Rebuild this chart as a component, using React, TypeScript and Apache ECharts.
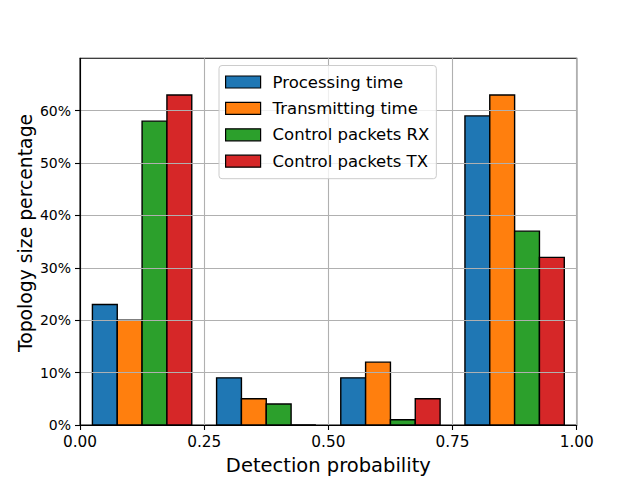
import React, { useEffect, useRef } from "react";
import * as echarts from "echarts";

const binEdges = [0, 0.25, 0.5, 0.75, 1.0];
const seriesNames = ["Processing time", "Transmitting time", "Control packets RX", "Control packets TX"];
const processingTime = [23, 9, 9, 59];
const transmittingTime = [20, 5, 12, 63];
const controlRX = [58, 4, 1, 37];
const controlTX = [63, 0, 5, 32];
const colors = ["#1f77b4", "#ff7f0e", "#2ca02c", "#d62728"];
const xTicks = [0, 0.25, 0.5, 0.75, 1.0];
const yTicks = [0, 10, 20, 30, 40, 50, 60];

const FONT = "DejaVu Sans";

export default function App() {
  const ref = useRef<HTMLDivElement>(null);
  useEffect(() => {
    if (!ref.current) return;
    const chart = echarts.init(ref.current, undefined, { renderer: "svg" });
    const allSeries = [processingTime, transmittingTime, controlRX, controlTX];
    const nSeries = allSeries.length;
    const rwidth = 0.8;
    const series = allSeries.map((vals, si) => ({
      type: "custom",
      name: seriesNames[si],
      color: colors[si],
      z: 2,
      data: vals.map((v, bi) => [binEdges[bi], binEdges[bi + 1], v]),
      renderItem: (params: any, api: any) => {
        const b0 = api.value(0);
        const b1 = api.value(1);
        const v = api.value(2);
        const bw = b1 - b0;
        const barW = (bw * rwidth) / nSeries;
        const x0 = b0 + (bw * (1 - rwidth)) / 2 + si * barW;
        const x1 = x0 + barW;
        const p0 = api.coord([x0, v]);
        const p1 = api.coord([x1, 0]);
        return {
          type: "rect",
          shape: { x: p0[0], y: p0[1], width: p1[0] - p0[0], height: p1[1] - p0[1] },
          style: { fill: colors[si], stroke: "#000", lineWidth: 1.4 },
        };
      },
    }));
    chart.setOption({
      animation: false,
      textStyle: { fontFamily: FONT },
      grid: {
        left: 80,
        right: 63.3,
        top: 58.3,
        bottom: 52.7,
        show: true,
        borderColor: "#000",
        borderWidth: 1.1,
        backgroundColor: "transparent",
      },
      legend: {
        orient: "vertical",
        left: 219,
        top: 65.5,
        padding: [8, 7, 9, 6],
        itemWidth: 35,
        itemHeight: 12,
        itemGap: 9.4,
        backgroundColor: "rgba(255,255,255,0.8)",
        borderColor: "#cccccc",
        borderWidth: 1,
        borderRadius: 3,
        textStyle: { fontFamily: FONT, fontSize: 16.5, color: "#000", lineHeight: 16, padding: [0, 0, 0, 7] },
        itemStyle: { borderColor: "#000", borderWidth: 1.2 },
        data: seriesNames.map((n) => ({ name: n, icon: "rect" })),
        z: 10,
      },
      xAxis: {
        type: "value",
        min: xTicks[0],
        max: xTicks[xTicks.length - 1],
        interval: xTicks[1] - xTicks[0],
        z: 5,
        axisLine: { show: true, lineStyle: { color: "#000", width: 1.1 } },
        axisTick: { show: true, length: 5, lineStyle: { color: "#000", width: 1.1 } },
        axisLabel: {
          color: "#000",
          fontSize: 15.3,
          fontFamily: FONT,
          margin: 9,
          formatter: (v: number) => v.toFixed(2),
        },
        splitLine: { show: true, lineStyle: { color: "#b0b0b0", width: 1.1 } },
        name: "Detection probability",
        nameLocation: "middle",
        nameGap: 30,
        nameTextStyle: { fontFamily: FONT, fontSize: 19.5, color: "#000" },
      },
      yAxis: {
        type: "value",
        min: yTicks[0],
        max: 70,
        interval: yTicks[1] - yTicks[0],
        z: 5,
        axisLine: { show: true, lineStyle: { color: "#000", width: 1.1 } },
        axisTick: { show: true, length: 5, customValues: yTicks, lineStyle: { color: "#000", width: 1.1 } },
        axisLabel: {
          color: "#000",
          fontSize: 14,
          fontFamily: FONT,
          margin: 9,
          customValues: yTicks,
          formatter: (v: number) => (yTicks.indexOf(v) >= 0 ? `${v}%` : ""),
        },
        splitLine: { show: true, lineStyle: { color: "#b0b0b0", width: 1.1 } },
      },
      graphic: [
        {
          type: "text",
          x: 25,
          y: 233,
          rotation: Math.PI / 2,
          style: {
            text: "Topology size percentage",
            fontFamily: FONT,
            fontSize: 18.8,
            fill: "#000",
            textAlign: "center",
            textVerticalAlign: "middle",
          },
        },
      ],
      series,
    });
    return () => chart.dispose();
  }, []);
  return (
    <div
      ref={ref}
      style={{ position: "fixed", left: 0, top: 0, width: 640, height: 480, background: "#fff" }}
    />
  );
}
